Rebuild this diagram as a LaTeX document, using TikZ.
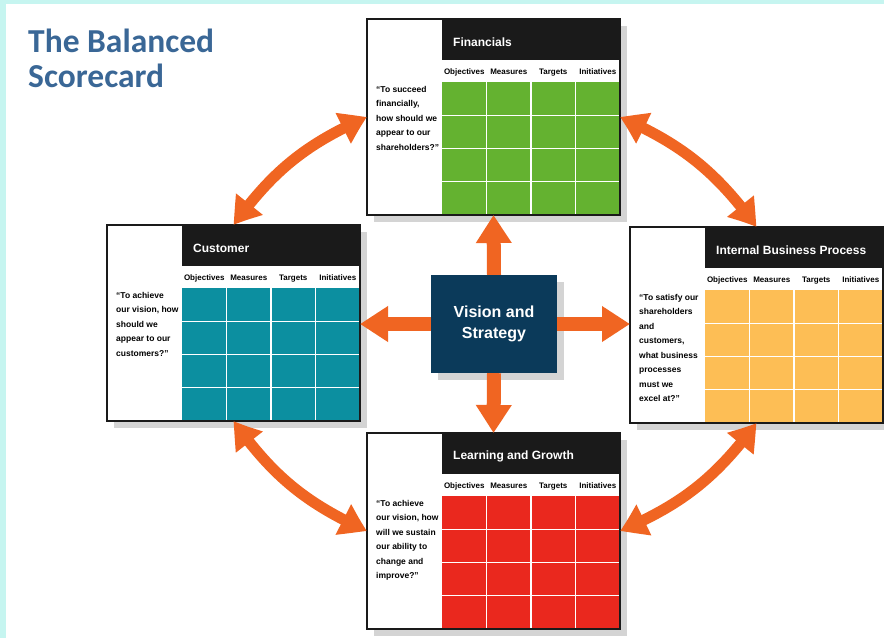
\documentclass[tikz,border=0pt]{standalone}
\usepackage{fontspec}
\setmainfont{Liberation Sans}
\newfontfamily\headfont{Carlito}
\usetikzlibrary{arrows.meta,bending}

\definecolor{bgcyan}{HTML}{C6F5F0}
\definecolor{titleblue}{HTML}{3A6796}
\definecolor{finfill}{HTML}{64B230}
\definecolor{cusfill}{HTML}{0C8FA0}
\definecolor{ibpfill}{HTML}{FDBE55}
\definecolor{lrnfill}{HTML}{EA281E}
\definecolor{visfill}{HTML}{0B3A5A}
\definecolor{arrowc}{HTML}{F06522}
\definecolor{headblack}{HTML}{1A1A1A}
\definecolor{shadowgray}{HTML}{D4D4D4}

\tikzset{
  boxframe/.style={fill=white, minimum width=253pt, minimum height=196pt,
    inner sep=0pt, outer sep=0pt, anchor=north west},
  frameline/.style={draw=headblack, line width=2.5pt},
  gridline/.style={draw=white, line width=1.2pt},
  boxtitle/.style={anchor=west, text=white, inner sep=0pt,
    font=\bfseries\fontsize{12}{14}\selectfont},
  colhead/.style={anchor=base, inner sep=0pt, font=\bfseries\fontsize{8}{10}\selectfont},
  quote/.style={anchor=north west, align=left, inner sep=0pt,
    font=\bfseries\fontsize{8.5}{14.5}\selectfont},
  visbox/.style={fill=visfill, text=white, align=center, inner sep=0pt,
    minimum width=126pt, minimum height=98pt,
    font=\bfseries\fontsize{16}{21}\selectfont},
  maintitle/.style={anchor=north west, align=left, inner sep=0pt, text=titleblue,
    font=\headfont\bfseries\fontsize{33.5}{35}\selectfont},
  blockarrow/.style={draw=arrowc, line width=14pt,
    -{Triangle[width=34pt,length=28pt]}},
  cyclearrow/.style={draw=arrowc, line width=11pt,
    {Triangle[width=32pt,length=27pt,bend]}-{Triangle[width=32pt,length=27pt,bend]}},
}

% one perspective: name, x, y (top left), fill, title, question
\newcommand{\scorebox}[6]{%
  \begin{scope}[shift={(#2,#3)}]
    \fill[shadowgray] (7,7) rectangle (260,203);
    \node[boxframe] (#1) at (0,0) {};
    \fill[headblack] (75,0) rectangle (253,41);
    \fill[#4] (75,63) rectangle (253,196);
    \foreach \gx in {119.5,164,208.5} \draw[gridline] (\gx,63) -- (\gx,196);
    \foreach \gy in {96.25,129.5,162.75} \draw[gridline] (75,\gy) -- (253,\gy);
    \draw[frameline] (#1.north west) rectangle (#1.south east);
    \node[boxtitle] (#1-title) at (86,23) {#5};
    \foreach \hd [count=\i] in {Objectives,Measures,Targets,Initiatives}
      \node[colhead] (#1-h\i) at (52.75+44.5*\i,55) {\hd};
    \node[quote] (#1-q) at (9,67) {#6};
  \end{scope}
}

\begin{document}
\begin{tikzpicture}[x=1pt, y=-1pt]
  \useasboundingbox (0,0) rectangle (884,638);
  \fill[white] (0,0) rectangle (884,638);
  \fill[bgcyan] (0,0) rectangle (884,4);
  \fill[bgcyan] (0,0) rectangle (6,638);

  \node[maintitle] (title) at (28,29) {The Balanced\\Scorecard};

  % the four perspectives
  \scorebox{fin}{367}{19}{finfill}{Financials}
    {``To succeed\\financially,\\how should we\\appear to our\\shareholders?''}
  \scorebox{cus}{107}{225}{cusfill}{Customer}
    {``To achieve\\our vision, how\\should we\\appear to our\\customers?''}
  \scorebox{ibp}{630}{227}{ibpfill}{Internal Business Process}
    {``To satisfy our\\shareholders\\and\\customers,\\what business\\processes\\must we\\excel at?''}
  \scorebox{lrn}{367}{433}{lrnfill}{Learning and Growth}
    {``To achieve\\our vision, how\\will we sustain\\our ability to\\change and\\improve?''}

  % centre
  \fill[shadowgray] (438,282) rectangle (564,380);
  \node[visbox] (vis) at (494,324) {Vision and\\Strategy};

  \draw[blockarrow] (vis.north) -- (fin.south);
  \draw[blockarrow] (vis.west) -- (vis.west -| cus.east);
  \draw[blockarrow] (vis.east) -- (vis.east -| ibp.west);
  \draw[blockarrow] (vis.south) -- (lrn.north);

  \draw[cyclearrow] (cus.north) to[bend left=15] (fin.west);
  \draw[cyclearrow] (fin.east) to[bend left=15] (ibp.north);
  \draw[cyclearrow] (ibp.south) to[bend left=15] (lrn.east);
  \draw[cyclearrow] (lrn.west) to[bend left=15] (cus.south);
\end{tikzpicture}
\end{document}
